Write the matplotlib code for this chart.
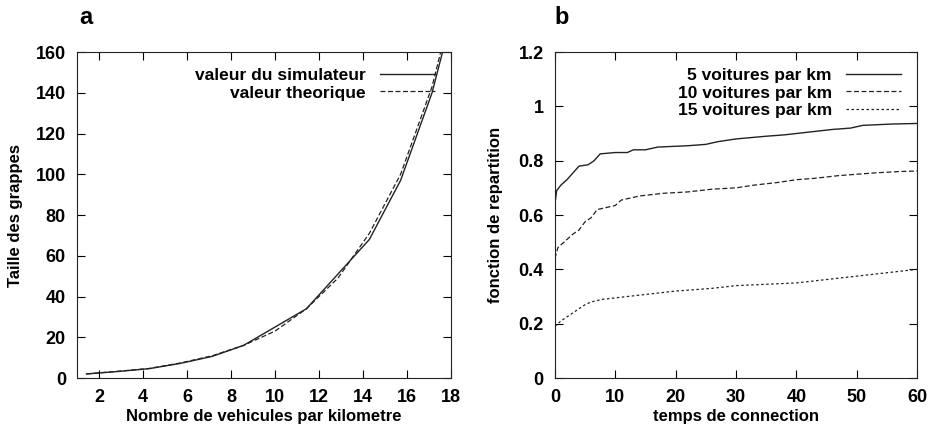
import matplotlib.pyplot as plt

plt.rcParams['font.family'] = ['Liberation Sans', 'DejaVu Sans']
plt.rcParams['font.weight'] = 'bold'

# panel a
densite = [1.43, 2.86, 4.29, 5.71, 7.14, 8.57, 10.0, 11.43, 12.86, 14.29, 15.71, 17.14, 18.57]
taille_sim = [2, 3.2, 4.6, 7.2, 10.6, 16, 25, 34, 51, 68, 97, 140, 200]
taille_theo = [2, 3.3, 4.7, 7.4, 10.9, 16, 23, 34, 49, 71, 100, 143, 205]

# panel b
t5 = [0, 0.3, 1, 2, 3, 4, 5.5, 6.5, 7.5, 10, 12, 13, 15, 17, 22, 25, 27, 30, 35, 38, 42, 46, 49, 51, 56, 60]
f5 = [0.64, 0.69, 0.71, 0.73, 0.755, 0.78, 0.785, 0.80, 0.825, 0.83, 0.83, 0.84, 0.84, 0.85, 0.855, 0.86, 0.87,
      0.88, 0.89, 0.895, 0.905, 0.915, 0.92, 0.93, 0.935, 0.937]
t10 = [0, 0.5, 1.5, 3, 4, 5, 6, 7, 8, 10, 11, 12, 14, 16, 18, 22, 26, 30, 33, 37, 40, 43, 47, 50, 53, 57, 60]
f10 = [0.44, 0.48, 0.50, 0.53, 0.545, 0.575, 0.59, 0.62, 0.625, 0.635, 0.655, 0.66, 0.67, 0.675, 0.68, 0.685,
       0.695, 0.70, 0.71, 0.72, 0.73, 0.735, 0.745, 0.75, 0.755, 0.76, 0.762]
t15 = [0, 1, 3, 5, 6, 8, 12, 16, 20, 26, 30, 35, 40, 44, 48, 52, 56, 60]
f15 = [0.19, 0.21, 0.24, 0.27, 0.28, 0.29, 0.30, 0.31, 0.32, 0.33, 0.34, 0.345, 0.35, 0.36, 0.37, 0.38, 0.39, 0.40]

fig = plt.figure(figsize=(9.31, 4.36), dpi=100)
ax1 = fig.add_axes([0.0827, 0.133, 0.4017, 0.7477])
ax2 = fig.add_axes([0.596, 0.133, 0.389, 0.7477])

col = '#222222'
ax1.plot(densite, taille_sim, '-', color=col, lw=1, label="valeur du simulateur")
ax1.plot(densite, taille_theo, '--', color=col, lw=0.9, dashes=(4, 2), label="valeur theorique")
ax1.set_xlim(1, 18)
ax1.set_ylim(0, 160)
ax1.set_xticks(range(2, 19, 2))
ax1.set_yticks(range(0, 161, 20))
ax1.set_xlabel("Nombre de vehicules par kilometre", fontsize=12, fontweight='bold', labelpad=2)
ax1.set_ylabel("Taille des grappes", fontsize=12, fontweight='bold', labelpad=9)

ax2.plot(t5, f5, '-', color=col, lw=1, label="5 voitures par km")
ax2.plot(t10, f10, '--', color=col, lw=0.9, dashes=(4, 2), label="10 voitures par km")
ax2.plot(t15, f15, ':', color=col, lw=0.9, dashes=(2, 2), label="15 voitures par km")
ax2.set_xlim(0, 60)
ax2.set_ylim(0, 1.2)
ax2.set_xticks(range(0, 61, 10))
ax2.set_yticks([0, 0.2, 0.4, 0.6, 0.8, 1, 1.2])
ax2.set_yticklabels(["0", "0.2", "0.4", "0.6", "0.8", "1", "1.2"])
ax2.set_xlabel("temps de connection", fontsize=12, fontweight='bold', labelpad=2)
ax2.set_ylabel("fonction de repartition", fontsize=12, fontweight='bold', labelpad=11)

for ax in (ax1, ax2):
    ax.tick_params(direction='in', top=True, right=True, length=6, labelsize=13, pad=8)
    for lab in ax.get_xticklabels() + ax.get_yticklabels():
        lab.set_fontweight('bold')
    for sp in ax.spines.values():
        sp.set_color(col)
    ax.legend(loc='upper right', frameon=False, markerfirst=False, fontsize=12.5,
              handlelength=3.2, labelspacing=0.15, borderaxespad=0.5, handletextpad=0.8)

fig.text(0.085, 0.945, "a", fontsize=17, fontweight='bold')
fig.text(0.596, 0.945, "b", fontsize=17, fontweight='bold')

fig.savefig("out.png", dpi=100)
